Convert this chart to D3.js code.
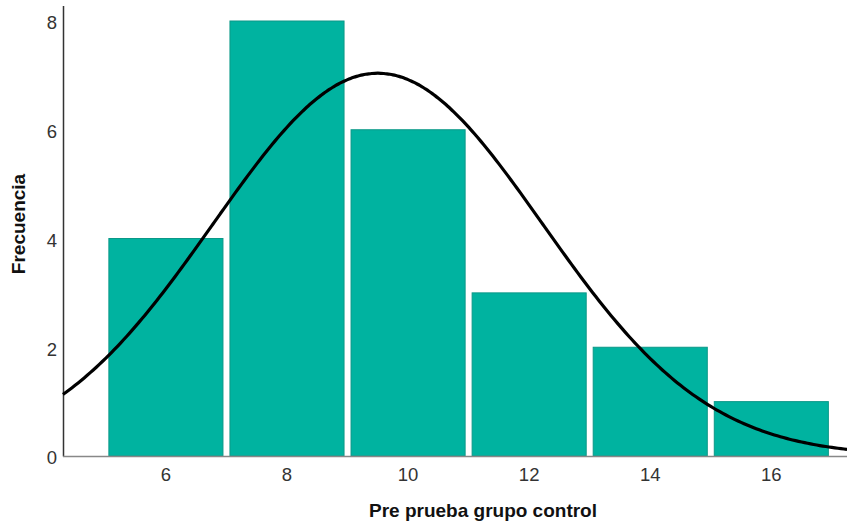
<!DOCTYPE html>
<html><head><meta charset="utf-8">
<script src="https://cdn.jsdelivr.net/npm/d3@7"></script>
<style>body{margin:0;background:#fff}svg{display:block}</style>
</head><body>
<script>
const binStarts = [5, 7, 9, 11, 13, 15];
const binEnds = [7, 9, 11, 13, 15, 17];
const counts = [4, 8, 6, 3, 2, 1];
const xTicks = [6, 8, 10, 12, 14, 16];
const yTicks = [0, 2, 4, 6, 8];
const curveMean = 9.5;
const curveSD = 2.72;
const binWidth = 2;

const W = 847, H = 527;
const svg = d3.select("body").append("svg").attr("width", W).attr("height", H);
const x = d3.scaleLinear().domain([4.3, 17.25]).range([63, 847]);
const y = d3.scaleLinear().domain([0, 8]).range([456, 21]);
const font = "Liberation Sans, Arial, sans-serif";

// bars
const bars = binStarts.map((s, i) => ({s, e: binEnds[i], c: counts[i]}));
svg.append("g").selectAll("rect").data(bars).join("rect")
  .attr("x", d => x(d.s) + 3.5)
  .attr("width", d => x(d.e) - x(d.s) - 7)
  .attr("y", d => y(d.c))
  .attr("height", d => y(0) - y(d.c))
  .attr("fill", "#00b3a0")
  .attr("stroke", "#0b9888")
  .attr("stroke-width", 1);

// axes lines
svg.append("line").attr("x1", 63.5).attr("x2", 63.5).attr("y1", 6).attr("y2", 456.5)
  .attr("stroke", "#333").attr("stroke-width", 1.5);
svg.append("line").attr("x1", 63).attr("x2", 847).attr("y1", 456.5).attr("y2", 456.5)
  .attr("stroke", "#888").attr("stroke-width", 1.5);

// tick labels
svg.append("g").selectAll("text").data(yTicks).join("text")
  .attr("x", 57).attr("y", d => y(d) + 2).attr("dy", "0.35em")
  .attr("text-anchor", "end").attr("font-family", font).attr("font-size", 18.5).attr("fill", "#333")
  .text(d => d);
svg.append("g").selectAll("text").data(xTicks).join("text")
  .attr("x", d => x(d)).attr("y", 474.5).attr("dy", "0.35em")
  .attr("text-anchor", "middle").attr("font-family", font).attr("font-size", 18.5).attr("fill", "#333")
  .text(d => d);

// normal curve
const N = d3.sum(counts);
const pdf = v => N * binWidth * Math.exp(-0.5 * ((v - curveMean) / curveSD) ** 2) / (curveSD * Math.sqrt(2 * Math.PI));
const pts = d3.range(4.3, 17.2501, 0.05).map(v => [v, pdf(v)]);
svg.append("path").datum(pts)
  .attr("d", d3.line().x(d => x(d[0])).y(d => y(d[1])).curve(d3.curveBasis))
  .attr("fill", "none").attr("stroke", "#000").attr("stroke-width", 3.2);

// axis titles
svg.append("text").attr("x", 483).attr("y", 517)
  .attr("text-anchor", "middle").attr("font-family", font).attr("font-size", 19)
  .attr("font-weight", "bold").attr("fill", "#111").text("Pre prueba grupo control");
svg.append("text").attr("transform", "translate(25,224) rotate(-90)")
  .attr("text-anchor", "middle").attr("font-family", font).attr("font-size", 19)
  .attr("font-weight", "bold").attr("fill", "#111").text("Frecuencia");
</script>
</body></html>
